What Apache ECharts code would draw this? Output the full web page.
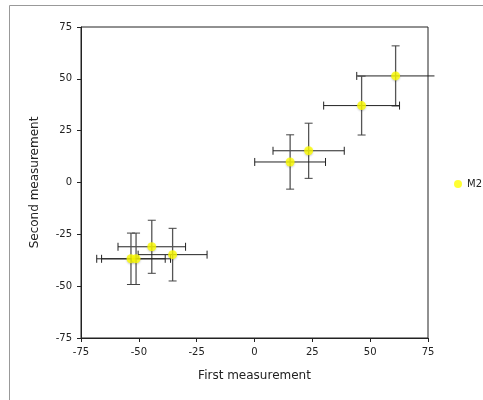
<!DOCTYPE html>
<html>
<head>
<meta charset="UTF-8">
<script src="https://cdn.jsdelivr.net/npm/echarts@6/dist/echarts.min.js"></script>
<style>
    html, body { margin: 0; padding: 0; background: #fff; }
    #main { width: 483px; height: 400px; }
</style>
</head>
<body>
<div id="main"></div>
<script type="text/javascript">
    var firstVals  = [61.0, 46.3, 23.4, 15.4, -44.4, -35.4, -53.4, -51.2];
    var secondVals = [51.4, 37.1, 15.3, 9.9, -31.0, -34.8, -36.8, -36.8];
    var firstErr   = [16.8, 16.4, 15.4, 15.3, 14.6, 14.9, 14.8, 14.9];
    var secondErr  = [14.5, 14.2, 13.3, 13.1, 12.8, 12.7, 12.4, 12.4];

    var points = [];
    var bars = [];
    for (var i = 0; i < firstVals.length; i++) {
        points.push([firstVals[i], secondVals[i]]);
        bars.push([firstVals[i], secondVals[i], firstErr[i], secondErr[i]]);
    }

    var myChart = echarts.init(document.getElementById('main'));

    function renderErr(params, api) {
        var x = api.value(0), y = api.value(1);
        var ex = api.value(2), ey = api.value(3);
        var c = api.coord([x, y]);
        var l = api.coord([x - ex, y]);
        var r = api.coord([x + ex, y]);
        var t = api.coord([x, y + ey]);
        var b = api.coord([x, y - ey]);
        var cap = 4;
        var children = [
            {type: 'line', shape: {x1: l[0], y1: c[1], x2: r[0], y2: c[1]}, style: {stroke: '#222', lineWidth: 1}},
            {type: 'line', shape: {x1: l[0], y1: c[1] - cap, x2: l[0], y2: c[1] + cap}, style: {stroke: '#222', lineWidth: 1}},
            {type: 'line', shape: {x1: c[0], y1: t[1], x2: c[0], y2: b[1]}, style: {stroke: '#555', lineWidth: 1.3}},
            {type: 'line', shape: {x1: c[0] - cap, y1: t[1], x2: c[0] + cap, y2: t[1]}, style: {stroke: '#444', lineWidth: 1}},
            {type: 'line', shape: {x1: c[0] - cap, y1: b[1], x2: c[0] + cap, y2: b[1]}, style: {stroke: '#444', lineWidth: 1}}
        ];
        // right cap only when the bar ends inside the axis range
        if (x + ex <= 75) {
            children.push({type: 'line', shape: {x1: r[0], y1: c[1] - cap, x2: r[0], y2: c[1] + cap}, style: {stroke: '#222', lineWidth: 1}});
        }
        return {type: 'group', children: children};
    }

    var axisLabel = {fontFamily: 'DejaVu Sans', fontSize: 10, color: '#222', margin: 9};

    var option = {
        animation: false,
        graphic: [{
            type: 'rect', shape: {x: 9.5, y: 5.5, width: 490, height: 400},
            style: {fill: 'none', stroke: '#999', lineWidth: 1}
        }],
        grid: {left: 81, top: 27, width: 347, height: 311, show: true, borderColor: '#222', borderWidth: 1},
        legend: {
            data: ['M2'], orient: 'vertical', left: 449, top: 174,
            itemWidth: 8, itemHeight: 8, itemGap: 4,
            textStyle: {fontFamily: 'DejaVu Sans', fontSize: 10, color: '#222'}
        },
        xAxis: {
            type: 'value', min: -75, max: 75, interval: 25,
            name: 'First measurement', nameLocation: 'middle', nameGap: 32,
            nameTextStyle: {fontFamily: 'DejaVu Sans', fontSize: 12, color: '#222'},
            axisLine: {onZero: false, lineStyle: {color: '#222'}},
            axisTick: {show: true, length: 4, lineStyle: {color: '#222'}},
            axisLabel: axisLabel,
            splitLine: {show: false}
        },
        yAxis: {
            type: 'value', min: -75, max: 75, interval: 25,
            name: 'Second measurement', nameLocation: 'middle', nameGap: 40,
            nameTextStyle: {fontFamily: 'DejaVu Sans', fontSize: 12, color: '#222'},
            axisLine: {show: true, onZero: false, lineStyle: {color: '#222'}},
            axisTick: {show: true, length: 4, lineStyle: {color: '#222'}},
            axisLabel: axisLabel,
            splitLine: {show: false}
        },
        series: [
            {
                type: 'custom', name: 'err', renderItem: renderErr, data: bars, clip: false, z: 1,
                encode: {x: 0, y: 1}
            },
            {
                type: 'scatter', name: 'M2', data: points, symbolSize: 9, z: 3,
                itemStyle: {color: '#ffff00', shadowColor: 'rgba(0,0,0,0.25)', shadowBlur: 2, shadowOffsetY: 1}
            }
        ]
    };

    myChart.setOption(option);
</script>
</body>
</html>
